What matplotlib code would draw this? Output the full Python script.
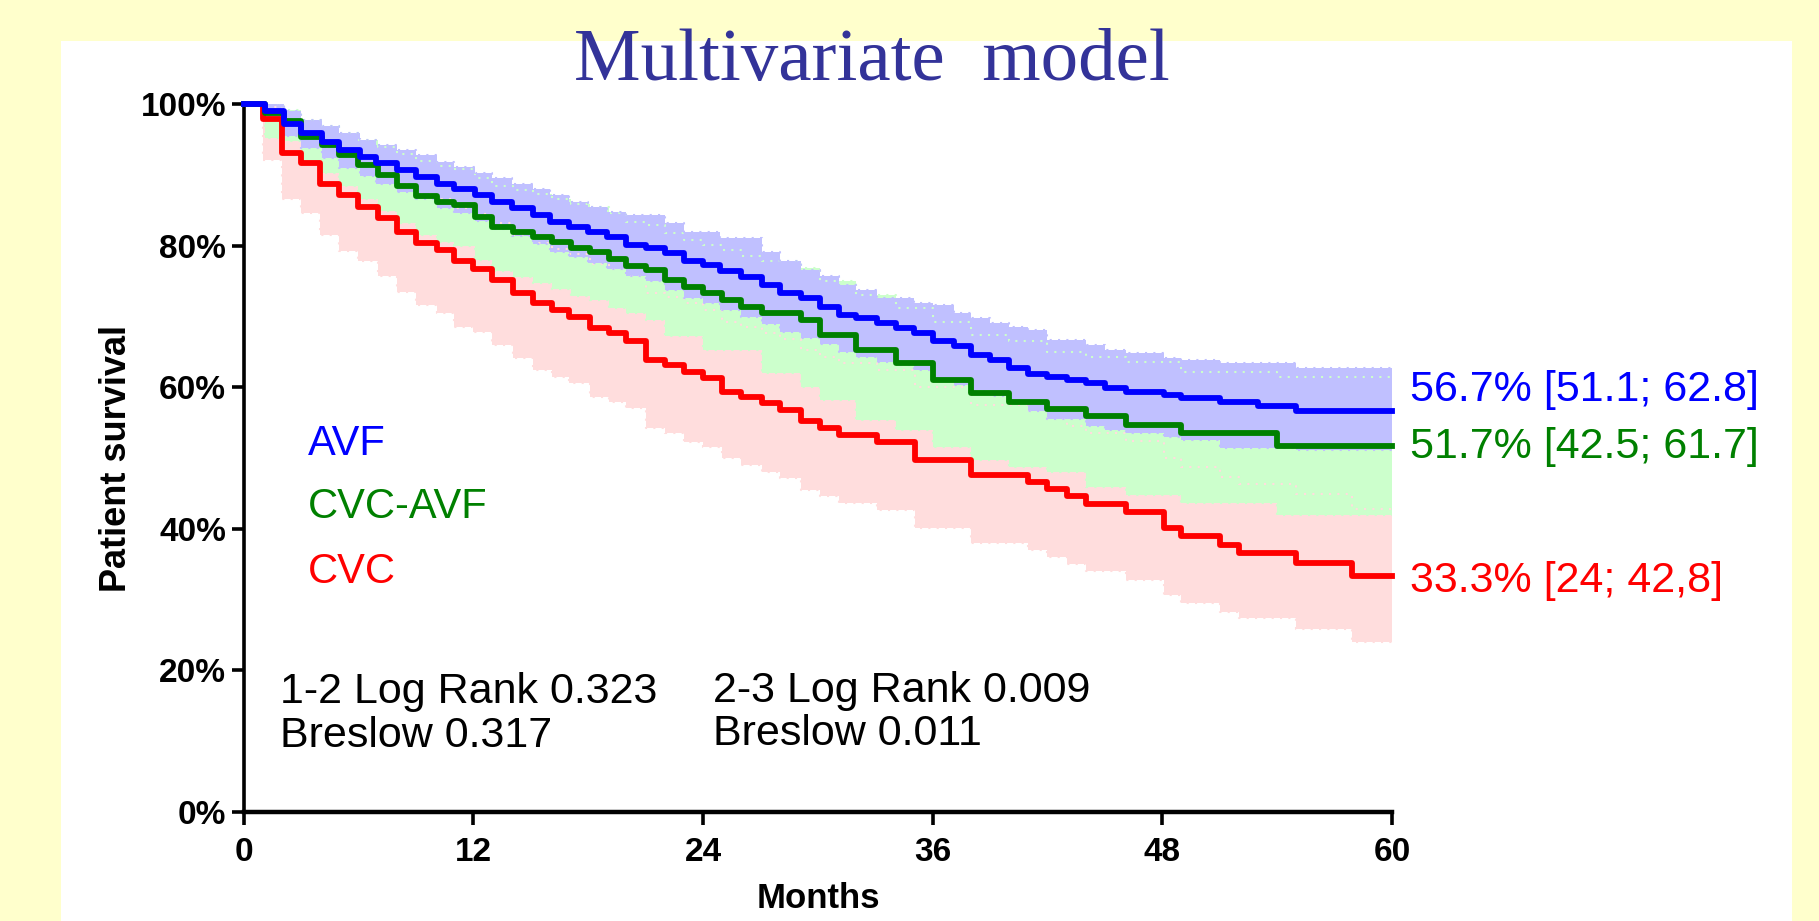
import matplotlib.pyplot as plt
import numpy as np

# Kaplan-Meier curves: step times (months), survival (%), CI bounds (%)
avf_t = [0, 1.1, 2.1, 3.0, 4.1, 5.0, 6.1, 6.9, 8.0, 9.0,
         10.1, 11.0, 12.1, 13.0, 14.0, 15.1, 16.0, 17.0, 18.0, 19.0,
         20.0, 21.0, 22.0, 23.0, 24.0, 24.9, 26.0, 27.1, 28.0, 29.1,
         30.1, 31.1, 32.0, 33.1, 34.1, 35.0, 36.0, 37.1, 38.0, 39.0,
         40.0, 41.0, 42.0, 43.0, 44.0, 45.0, 46.1, 48.1, 49.0, 51.0,
         53.0, 55.0]
avf_s = [100, 99.0, 97.3, 95.9, 94.7, 93.6, 92.6, 91.7, 90.7, 89.8,
         88.8, 88.1, 87.2, 86.2, 85.3, 84.4, 83.4, 82.7, 82.0, 81.3,
         80.2, 79.7, 79.0, 77.8, 77.3, 76.4, 75.6, 74.5, 73.3, 72.6,
         71.4, 70.2, 69.8, 69.1, 68.4, 67.7, 66.5, 65.8, 64.6, 63.9,
         62.7, 61.9, 61.5, 61.1, 60.6, 59.9, 59.4, 58.9, 58.5, 58.0,
         57.4, 56.7]
avf_hi = [100, 100, 99.0, 97.8, 96.9, 95.9, 95.0, 94.3, 93.6, 92.8,
          91.9, 91.2, 90.3, 89.6, 88.8, 88.1, 87.2, 86.2, 85.5, 84.8,
          84.4, 84.4, 83.2, 82.0, 82.0, 81.1, 81.1, 79.2, 77.8, 76.6,
          75.7, 74.5, 73.8, 72.6, 72.6, 72.0, 71.7, 70.5, 69.8, 69.1,
          68.6, 68.1, 66.7, 66.7, 66.0, 65.3, 64.8, 64.1, 63.9, 63.4,
          63.4, 62.8]
avf_lo = [100, 97.8, 95.6, 93.8, 92.4, 91.0, 89.9, 88.8, 87.6, 86.6,
          85.4, 84.6, 83.5, 82.4, 81.4, 80.3, 79.2, 78.4, 77.6, 76.8,
          75.7, 75.1, 73.8, 72.6, 71.9, 71.0, 70.0, 68.9, 67.9, 67.0,
          66.2, 65.0, 64.3, 63.6, 63.2, 62.4, 61.1, 60.4, 59.6, 58.8,
          57.8, 56.6, 55.6, 55.6, 54.5, 54.0, 53.5, 53.0, 52.6, 51.4,
          51.4, 51.1]

cvcavf_t = [0, 1.1, 2.1, 3.0, 4.1, 5.0, 6.0, 7.0, 8.0, 9.0,
            10.1, 11.0, 12.1, 13.0, 14.1, 15.1, 16.1, 17.1, 18.1, 19.1,
            20.0, 21.0, 22.0, 23.0, 24.0, 25.0, 26.0, 27.1, 29.1, 30.1,
            32.0, 34.1, 36.0, 38.0, 40.0, 42.0, 44.0, 46.1, 49.0, 54.0]
cvcavf_s = [100, 98.8, 97.6, 95.4, 94.3, 92.8, 91.4, 90.0, 88.4, 87.0,
            86.2, 85.8, 84.1, 82.7, 82.0, 81.3, 80.6, 79.7, 79.2, 78.2,
            77.1, 76.6, 75.2, 74.2, 73.3, 72.4, 71.4, 70.5, 69.5, 67.4,
            65.3, 63.4, 61.1, 59.2, 58.0, 56.9, 55.9, 54.7, 53.5, 51.7]
cvcavf_hi = [100, 100, 99.2, 97.8, 96.9, 95.9, 95.0, 94.0, 93.0, 92.0,
             91.3, 90.9, 89.6, 88.5, 87.9, 87.3, 86.7, 85.9, 85.5, 84.6,
             83.4, 83.0, 81.8, 80.9, 80.2, 79.4, 78.6, 77.8, 76.9, 75.0,
             73.1, 71.2, 69.3, 67.4, 66.5, 65.0, 64.3, 63.6, 62.2, 61.5]
cvcavf_lo = [100, 95.2, 94.8, 91.8, 90.3, 88.4, 86.7, 85.0, 83.2, 81.5,
             80.5, 80.0, 78.0, 76.5, 75.6, 74.7, 73.9, 72.9, 72.3, 71.2,
             70.5, 69.5, 67.2, 67.2, 65.3, 65.3, 65.3, 62.0, 60.1, 58.2,
             55.4, 54.0, 51.6, 49.7, 48.8, 48.0, 46.0, 44.8, 43.6, 42.0]

cvc_t = [0, 1.0, 2.0, 3.0, 4.0, 5.0, 6.0, 7.0, 8.0, 9.0,
         10.1, 11.0, 12.0, 13.0, 14.1, 15.1, 16.1, 17.0, 18.1, 19.1,
         20.0, 21.0, 22.0, 23.0, 24.0, 25.0, 26.0, 27.1, 28.0, 29.1,
         30.1, 31.1, 33.1, 35.1, 38.0, 41.0, 42.0, 43.0, 44.0, 46.1,
         48.1, 49.0, 51.0, 52.0, 55.0, 57.9]
cvc_s = [100, 98.0, 93.1, 91.7, 88.8, 87.2, 85.5, 83.9, 82.0, 80.4,
         79.4, 77.8, 76.8, 75.2, 73.3, 71.9, 70.9, 70.0, 68.4, 67.7,
         66.5, 63.9, 63.2, 62.2, 61.3, 59.4, 58.7, 57.8, 56.8, 55.2,
         54.2, 53.3, 52.3, 49.7, 47.6, 46.7, 45.7, 44.6, 43.5, 42.4,
         40.1, 39.0, 37.7, 36.6, 35.2, 33.3]
cvc_hi = [100, 99.6, 97.0, 96.0, 94.0, 92.8, 91.5, 90.2, 88.7, 87.4,
          86.6, 85.3, 84.5, 83.2, 81.6, 80.4, 79.6, 78.8, 77.4, 76.8,
          75.8, 73.4, 72.8, 71.9, 71.0, 69.2, 68.6, 67.7, 66.8, 65.3,
          64.3, 63.5, 62.5, 60.0, 57.5, 56.6, 55.6, 54.6, 53.5, 52.4,
          50.0, 48.7, 47.4, 46.3, 45.0, 42.8]
cvc_lo = [100, 92.1, 86.7, 84.6, 81.5, 79.3, 77.8, 75.7, 73.5, 71.7,
          70.5, 68.6, 67.9, 66.0, 64.1, 62.5, 61.5, 60.6, 58.7, 58.0,
          57.1, 54.2, 53.5, 52.3, 51.6, 50.0, 49.0, 48.1, 47.2, 45.5,
          44.6, 43.6, 42.7, 40.1, 38.0, 37.0, 36.1, 35.1, 34.0, 32.8,
          30.7, 29.5, 28.3, 27.4, 25.8, 24.0]

group_names = ["AVF", "CVC-AVF", "CVC"]
end_labels = ["56.7% [51.1; 62.8]", "51.7% [42.5; 61.7]", "33.3% [24; 42,8]"]
stats_left = ["1-2 Log Rank 0.323", "Breslow 0.317"]
stats_right = ["2-3 Log Rank 0.009", "Breslow 0.011"]
x_ticks = [0, 12, 24, 36, 48, 60]
y_ticks = [0, 20, 40, 60, 80, 100]

plt.rcParams['font.family'] = ['Liberation Sans', 'DejaVu Sans']

W, H = 1819, 921
fig = plt.figure(figsize=(W / 100, H / 100), dpi=100, facecolor='#FFFFCC')
# white slide panel
fig.add_artist(plt.Rectangle((61 / W, 0), (1792 - 61) / W, 1 - 41 / H,
                             transform=fig.transFigure, facecolor='white',
                             edgecolor='none', zorder=0))

fig.text(872 / W, 1 - 80 / H, "Multivariate  model", ha='center', va='baseline',
         fontsize=54, color='#333399', family=['Liberation Serif'])

ax = fig.add_axes([243.6 / W, 1 - 812 / H, (1392 - 243.6) / W, (812 - 104.4) / H])
ax.set_facecolor('none')


def ext(t, v):
    # prolong the last step to the end of follow-up
    return np.append(t, 60), np.append(v, v[-1])


groups = [
    (cvc_t, cvc_s, cvc_lo, cvc_hi, '#FF0000', '#FFDDDD'),
    (cvcavf_t, cvcavf_s, cvcavf_lo, cvcavf_hi, '#008000', '#CCFFCC'),
    (avf_t, avf_s, avf_lo, avf_hi, '#0000FF', '#C0C0FF'),
]

# CI bands
for t, s, lo, hi, col, fcol in groups:
    tt, l = ext(t, lo)
    _, h = ext(t, hi)
    ax.fill_between(tt, l, h, step='post', color=fcol, lw=0, zorder=1)

# dotted CI edges
for t, s, lo, hi, col, fcol in groups:
    for b in (lo, hi):
        tt, bb = ext(t, b)
        ax.step(tt, bb, where='post', color=fcol, lw=1.5, ls=(0, (1, 3)), zorder=2)

# survival curves
for t, s, lo, hi, col, fcol in groups:
    tt, ss = ext(t, s)
    ax.step(tt, ss, where='post', color=col, lw=4.2, zorder=3, clip_on=False)

ax.set_xlim(0, 60)
ax.set_ylim(0, 100)
for side in ['top', 'right']:
    ax.spines[side].set_visible(False)
ax.spines['left'].set_linewidth(2.6)
ax.spines['bottom'].set_linewidth(3.2)
ax.set_xticks(x_ticks)
ax.set_xticklabels([str(v) for v in x_ticks], fontweight='bold', fontsize=24)
ax.set_yticks(y_ticks)
ax.set_yticklabels([f"{v}%" for v in y_ticks], fontweight='bold', fontsize=24)
ax.tick_params(axis='both', direction='out', length=9, width=2.6)
ax.tick_params(axis='x', pad=9)
ax.tick_params(axis='y', pad=3.5)

fig.text(818 / W, 1 - 898 / H, "Months", ha='center', va='center',
         fontsize=25, fontweight='bold')
fig.text(116 / W, 1 - 459 / H, "Patient survival", ha='center', va='center',
         rotation=90, fontsize=26, fontweight='bold')

# group legend
colors = ['#0000FF', '#008000', '#FF0000']
for name, col, yb in zip(group_names, colors, [50.5, 41.5, 32.4]):
    ax.text(3.36, yb, name, color=col, fontsize=30, va='baseline', ha='left')

# end-of-follow-up estimates
for lab, col, yb in zip(end_labels, colors, [58.1, 50.0, 31.1]):
    ax.text(60.94, yb, lab, color=col, fontsize=31, va='baseline', ha='left',
            clip_on=False)

for txt, yb in zip(stats_left, [15.36, 9.23]):
    ax.text(1.9, yb, txt, color='black', fontsize=31, va='baseline', ha='left')
for txt, yb in zip(stats_right, [15.6, 9.5]):
    ax.text(24.55, yb, txt, color='black', fontsize=31, va='baseline', ha='left')

fig.savefig('out.png', dpi=100, facecolor=fig.get_facecolor())
